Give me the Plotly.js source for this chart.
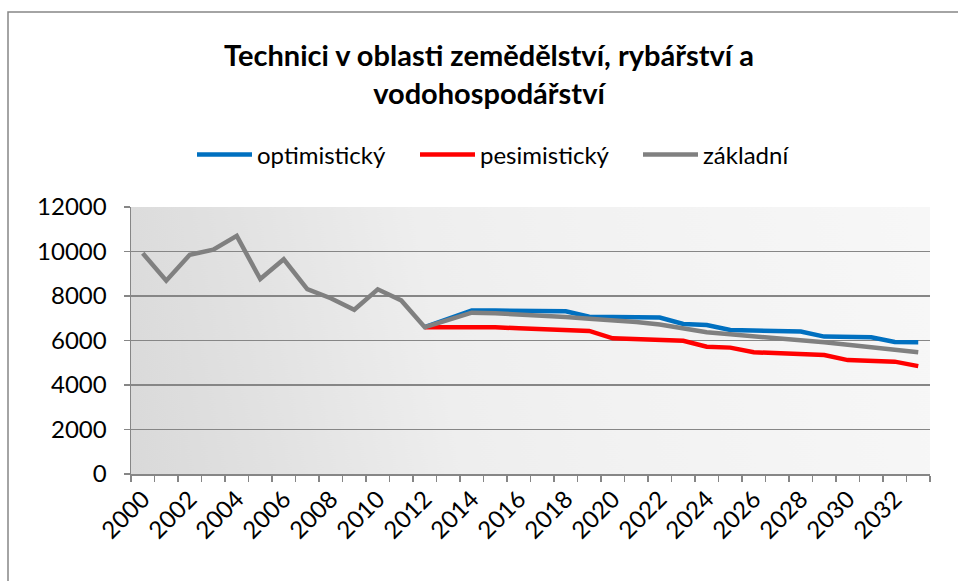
<!DOCTYPE html>
<html>
<head>
<meta charset="utf-8">
<script src="https://cdn.plot.ly/plotly-3.0.1.min.js"></script>
<style>
html,body{margin:0;padding:0;background:#fff;}
#chart{width:958px;height:581px;}
</style>
</head>
<body>
<div id="chart"></div>
<script>
// Data
const years = [2000,2001,2002,2003,2004,2005,2006,2007,2008,2009,2010,2011,2012,2013,2014,2015,2016,2017,2018,2019,2020,2021,2022,2023,2024,2025,2026,2027,2028,2029,2030,2031,2032,2033];
const forecastYears = years.slice(12);
const optimisticky = [6600,6960,7350,7345,7340,7330,7316,7070,7060,7050,7030,6740,6700,6470,6445,6430,6400,6175,6170,6145,5935,5920];
const pesimisticky = [6600,6610,6620,6595,6550,6505,6470,6430,6100,6070,6025,5990,5720,5680,5470,5425,5395,5350,5120,5080,5050,4850];
const zakladniHist = [9920,8690,9850,10080,10700,8760,9650,8310,7900,7380,8300,7800];
const zakladniFc = [6600,6930,7250,7225,7180,7120,7060,6980,6910,6830,6720,6520,6370,6280,6200,6130,6020,5920,5810,5710,5600,5470];
const zakladni = zakladniHist.concat(zakladniFc);
const tickYears = [2000,2002,2004,2006,2008,2010,2012,2014,2016,2018,2020,2022,2024,2026,2028,2030,2032];
const yTicks = [0,2000,4000,6000,8000,10000,12000];

// gradient background image for the plot area
function gradientURL(){
  const c = document.createElement('canvas');
  c.width = 800; c.height = 267;
  const g = c.getContext('2d');
  const lg = g.createLinearGradient(0, 267, 800, 120);
  lg.addColorStop(0, '#d9d9d9');
  lg.addColorStop(0.18, '#e2e2e2');
  lg.addColorStop(0.4, '#eeeeee');
  lg.addColorStop(0.6, '#f2f2f2');
  lg.addColorStop(1, '#f7f7f7');
  g.fillStyle = lg;
  g.fillRect(0,0,800,267);
  return c.toDataURL('image/png');
}

const FONT = 'Lato, "Open Sans", sans-serif';

const traces = [
  {x: forecastYears, y: optimisticky, name: 'optimistický', type: 'scatter', mode: 'lines',
   line: {color: '#0070C0', width: 4.5}},
  {x: forecastYears, y: pesimisticky, name: 'pesimistický', type: 'scatter', mode: 'lines',
   line: {color: '#FF0000', width: 4.5}},
  {x: years, y: zakladni, name: 'základní', type: 'scatter', mode: 'lines',
   line: {color: '#808080', width: 4.5}}
];

const W = 958, H = 581, L = 131, R = 28, T = 207, B = 107;
const pw = W - L - R, ph = H - T - B;
function px(x){ return (x - L) / pw; }
function py(y){ return (H - B - y) / ph; }

const layout = {
  width: W, height: H,
  margin: {l: L, r: R, t: T, b: B, pad: 0},
  paper_bgcolor: '#ffffff',
  plot_bgcolor: 'rgba(0,0,0,0)',
  font: {family: FONT, size: 24, color: '#000'},
  title: {
    text: '<b>Technici v oblasti zemědělství, rybářství a<br>vodohospodářství</b>',
    font: {family: FONT, size: 29, color: '#000'},
    x: 489/W, xanchor: 'center', xref: 'container',
    y: 1 - 66/H, yanchor: 'middle', yref: 'container'
  },
  showlegend: true,
  legend: {
    orientation: 'h', xref: 'container', yref: 'container',
    x: 192/W, xanchor: 'left', y: 1 - 155/H, yanchor: 'middle',
    font: {family: FONT, size: 24, color: '#000'},
    itemwidth: 55, entrywidth: 153, entrywidthmode: 'pixels',
    tracegroupgap: 0, bgcolor: 'rgba(0,0,0,0)'
  },
  xaxis: {
    type: 'linear', range: [1999.5, 2033.5],
    tickmode: 'array', tickvals: tickYears, ticktext: tickYears.map(String),
    tickangle: -45, ticks: '', showgrid: false, zeroline: false,
    showline: true, linecolor: '#868686', linewidth: 1.5,
    tickfont: {family: FONT, size: 24, color: '#000'},
    minor: {tickmode: 'linear', tick0: 1999.5, dtick: 1, ticks: 'outside', ticklen: 6, tickcolor: '#868686', tickwidth: 1.5, showgrid: false},
    fixedrange: true
  },
  yaxis: {
    range: [0, 12000], tickmode: 'array', tickvals: yTicks, ticktext: yTicks.map(String),
    ticks: 'outside', ticklen: 6, tickcolor: '#868686', tickwidth: 1.5,
    showgrid: true, gridcolor: '#868686', gridwidth: 1.5,
    zeroline: false, showline: true, linecolor: '#868686', linewidth: 1.5,
    tickfont: {family: FONT, size: 24, color: '#000'}, ticklabelstandoff: 12,
    fixedrange: true
  },
  images: [{
    source: gradientURL(), xref: 'paper', yref: 'paper',
    x: 0, y: 1, sizex: 1, sizey: 1, xanchor: 'left', yanchor: 'top',
    sizing: 'stretch', layer: 'below'
  }],
  shapes: [{
    type: 'rect', xref: 'paper', yref: 'paper',
    x0: px(8), x1: px(975), y0: py(600), y1: py(12),
    line: {color: '#868686', width: 1.5}, fillcolor: 'rgba(0,0,0,0)', layer: 'below'
  }]
};

Plotly.newPlot('chart', traces, layout, {displayModeBar: false, staticPlot: true});
</script>
</body>
</html>
